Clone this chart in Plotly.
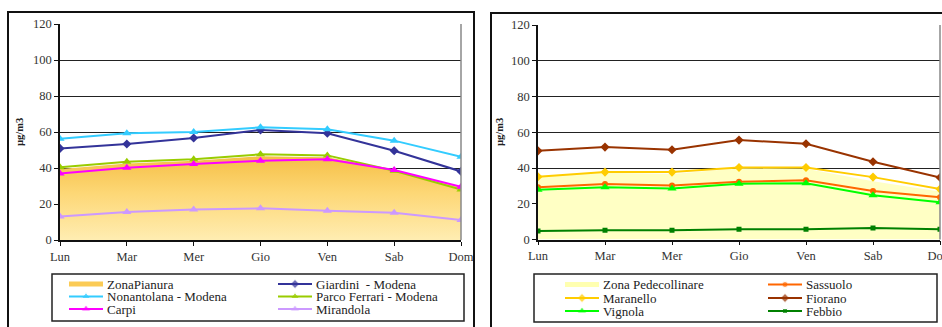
import plotly.graph_objects as go

# ---- data -------------------------------------------------------------
days = ["Lun", "Mar", "Mer", "Gio", "Ven", "Sab", "Dom"]

# plain zone (left panel)
zona_pianura = [39.5, 42.5, 44.0, 46.5, 46.0, 39.0, 29.5]
giardini = [50.9, 53.3, 56.7, 61.1, 59.3, 49.6, 38.1]
nonantolana = [56.3, 59.3, 60.0, 62.6, 61.5, 55.2, 46.3]
parco_ferrari = [40.4, 43.5, 44.8, 47.6, 47.0, 38.5, 28.1]
carpi = [37.0, 40.2, 42.2, 44.0, 44.8, 38.9, 29.6]
mirandola = [13.0, 15.6, 17.0, 17.6, 16.3, 15.2, 11.1]

# foothill zone (right panel)
zona_pedecollinare = [35.3, 37.4, 36.7, 39.9, 39.6, 32.6, 26.9]
sassuolo = [29.3, 31.0, 30.2, 32.3, 33.2, 27.1, 23.7]
maranello = [35.1, 37.7, 37.7, 40.3, 40.3, 34.9, 28.2]
fiorano = [49.6, 51.7, 50.2, 55.6, 53.6, 43.5, 34.7]
vignola = [27.8, 29.3, 28.6, 31.2, 31.4, 24.8, 20.9]
febbio = [4.7, 5.2, 5.2, 5.8, 5.8, 6.5, 5.8]

y_ticks = [0, 20, 40, 60, 80, 100, 120]

# ---- page geometry (pixels) --------------------------------------------
W, H = 942, 327
SERIF = "Liberation Serif"


def px(x):
    return x / W


def py(y):
    return 1 - y / H


fig = go.Figure()

left_lines = [
    ("Giardini  - Modena", giardini, "#333399", "diamond", 7),
    ("Nonantolana - Modena", nonantolana, "#33CCFF", "triangle-up", 8),
    ("Parco Ferrari - Modena", parco_ferrari, "#99CC00", "triangle-up", 8),
    ("Carpi", carpi, "#FF00FF", "triangle-up", 8),
    ("Mirandola", mirandola, "#CC99FF", "triangle-up", 8),
]
right_lines = [
    ("Sassuolo", sassuolo, "#FF6600", "circle", 6),
    ("Maranello", maranello, "#FFCC00", "diamond", 7),
    ("Fiorano", fiorano, "#993300", "diamond", 7),
    ("Vignola", vignola, "#00FF00", "triangle-up", 8),
    ("Febbio", febbio, "#008000", "square", 5),
]

# left panel: zone area + station lines
fig.add_trace(go.Scatter(
    x=days, y=zona_pianura, name="ZonaPianura", mode="lines",
    line=dict(width=0, color="#F6BF45"), fill="tozeroy",
    fillgradient=dict(type="vertical", start=0, stop=48,
                      colorscale=[[0, "#FFEDB2"], [0.55, "#FDD775"], [1, "#F5BD42"]]),
    xaxis="x", yaxis="y", showlegend=False,
))
for name, vals, col, sym, size in left_lines:
    fig.add_trace(go.Scatter(
        x=days, y=vals, name=name, mode="lines+markers",
        line=dict(color=col, width=2), marker=dict(symbol=sym, size=size, color=col),
        xaxis="x", yaxis="y", showlegend=False,
    ))

# right panel: zone area + station lines
fig.add_trace(go.Scatter(
    x=days, y=zona_pedecollinare, name="Zona Pedecollinare", mode="lines",
    line=dict(width=0, color="#FFFFC4"), fill="tozeroy", fillcolor="#FFFFC4",
    xaxis="x2", yaxis="y2", showlegend=False,
))
for name, vals, col, sym, size in right_lines:
    fig.add_trace(go.Scatter(
        x=days, y=vals, name=name, mode="lines+markers",
        line=dict(color=col, width=2), marker=dict(symbol=sym, size=size, color=col),
        xaxis="x2", yaxis="y2", showlegend=False,
    ))

# ---- hand-built legends (compact rows) ----------------------------------
annotations = []
shapes = []
leg_x, leg_y, leg_sym, leg_col, leg_size = [], [], [], [], []


def legend_block(entries, box, col_x, rows_y):
    x0, y0, x1, y1 = box
    shapes.append(dict(type="rect", xref="paper", yref="paper",
                       x0=px(x0), x1=px(x1), y0=py(y0), y1=py(y1),
                       line=dict(color="#222", width=1.5)))
    for i, (name, col, sym, size, swatch) in enumerate(entries):
        cx = col_x[i % 2]
        cy = rows_y[i // 2]
        shapes.append(dict(type="line", xref="paper", yref="paper",
                           x0=px(cx), x1=px(cx + 34), y0=py(cy), y1=py(cy),
                           line=dict(color=col, width=5 if swatch else 2)))
        if not swatch:
            leg_x.append(cx + 17)
            leg_y.append(cy)
            leg_sym.append(sym)
            leg_col.append(col)
            leg_size.append(size)
        annotations.append(dict(
            xref="paper", yref="paper", x=px(cx + 36), y=py(cy),
            xanchor="left", yanchor="middle", showarrow=False, text=name,
            font=dict(family=SERIF, size=13, color="#222"),
        ))


left_entries = [("ZonaPianura", "#FBCB55", None, 0, True)] + \
    [(n, c, s, z, False) for n, _, c, s, z in left_lines]
right_entries = [("Zona Pedecollinare", "#FFFFB0", None, 0, True)] + \
    [(n, c, s, z, False) for n, _, c, s, z in right_lines]

legend_block(left_entries, (52, 274, 464, 321), (69, 278), (284, 296.5, 309))
legend_block(right_entries, (534, 274, 937, 322), (565, 768), (284.5, 298, 311))

fig.add_trace(go.Scatter(
    x=leg_x, y=leg_y, mode="markers", xaxis="x3", yaxis="y3", showlegend=False,
    marker=dict(symbol=leg_sym, color=leg_col, size=leg_size), hoverinfo="skip",
))

# panel frames
shapes.append(dict(type="rect", xref="paper", yref="paper",
                   x0=px(8), x1=px(474), y0=-0.1, y1=py(12),
                   line=dict(color="#111", width=2)))
shapes.append(dict(type="rect", xref="paper", yref="paper",
                   x0=px(491), x1=1.1, y0=-0.1, y1=py(13),
                   line=dict(color="#111", width=2)))
# right edge of each plot area
for xr, ytop, ybot in (("x domain", 24, 240), ("x2 domain", 25, 239.5)):
    shapes.append(dict(type="line", xref=xr, yref="paper", x0=1, x1=1,
                       y0=py(ybot), y1=py(ytop), line=dict(color="#888", width=1.5)))

# axis titles
for xpos in (19, 499):
    annotations.append(dict(
        xref="paper", yref="paper", x=px(xpos), y=py(132), text="<b>µg/m3</b>",
        textangle=-90, showarrow=False, xanchor="center", yanchor="middle",
        font=dict(family=SERIF, size=10.5, color="#222"),
    ))

xa = dict(type="category", range=[0, 6], showgrid=False, showline=True,
          linecolor="#111", linewidth=1.5, ticks="outside", ticklen=4,
          tickcolor="#111", tickfont=dict(family=SERIF, size=12.5, color="#333"),
          fixedrange=True, automargin=False)
ya = dict(range=[0, 120], tickvals=y_ticks, showgrid=True, gridcolor="#222",
          gridwidth=1, showline=True, linecolor="#111", linewidth=1.5,
          ticks="outside", ticklen=4, tickcolor="#111", zeroline=False,
          tickfont=dict(family=SERIF, size=12.5, color="#333"), fixedrange=True,
          automargin=False)

fig.update_layout(
    width=W, height=H,
    margin=dict(l=0, r=0, t=0, b=0, pad=0, autoexpand=False),
    paper_bgcolor="white", plot_bgcolor="rgba(0,0,0,0)", showlegend=False,
    xaxis=dict(xa, domain=[px(60), px(461)], anchor="y"),
    yaxis=dict(ya, domain=[py(240), py(24)], anchor="x"),
    xaxis2=dict(xa, domain=[px(538), px(940)], anchor="y2"),
    yaxis2=dict(ya, domain=[py(239.5), py(25)], anchor="x2"),
    xaxis3=dict(domain=[0, 1], range=[0, W], visible=False, anchor="y3",
                fixedrange=True, automargin=False),
    yaxis3=dict(domain=[0, 1], range=[H, 0], visible=False, anchor="x3",
                fixedrange=True, automargin=False),
    shapes=shapes, annotations=annotations,
)

fig.write_html("out.html")
